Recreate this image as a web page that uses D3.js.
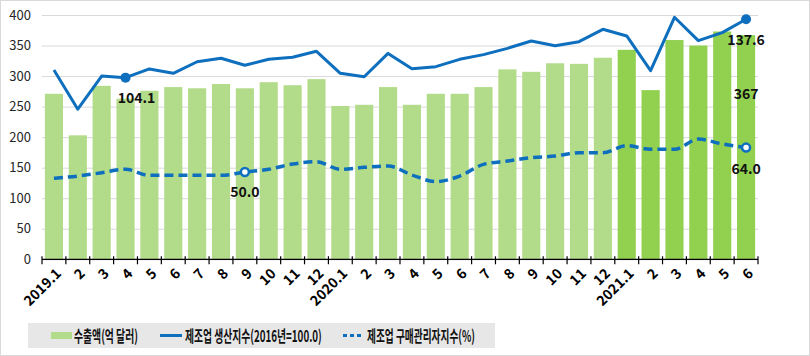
<!DOCTYPE html>
<html><head><meta charset="utf-8">
<script src="https://cdn.jsdelivr.net/npm/d3@7"></script>
<style>
html,body{margin:0;padding:0;background:#fff;}
svg{display:block;}
</style></head>
<body>
<svg id="c" width="810" height="356"></svg>
<script>
const categories = ["2019.1","2","3","4","5","6","7","8","9","10","11","12",
  "2020.1","2","3","4","5","6","7","8","9","10","11","12",
  "2021.1","2","3","4","5","6"];
const years = [2019,2019,2019,2019,2019,2019,2019,2019,2019,2019,2019,2019,
  2020,2020,2020,2020,2020,2020,2020,2020,2020,2020,2020,2020,
  2021,2021,2021,2021,2021,2021];
const exportsVal = [271,203,284,263,276,282,280,287,280,290,285,295,
  251,253,282,253,271,271,282,311,307,321,320,330,
  343,277,359,350,373,367];
const prodIndex = [108.5,86.0,105.0,104.1,109.1,106.6,113.2,115.2,111.2,114.6,115.8,119.2,
  106.6,104.6,118.0,109.2,110.4,114.6,117.3,120.9,125.1,122.4,124.7,131.8,
  128.0,108.1,138.7,125.3,129.9,137.6];
const pmi = [46.4,47.7,49.6,51.6,48.1,48.1,48.1,48.1,50.0,51.6,54.6,55.9,
  51.6,52.7,53.5,48.3,44.5,47.7,54.4,56.3,58.2,59.2,61.1,61.1,
  65.1,63.0,63.0,68.9,66.1,64.0];
const yTicks = [0,50,100,150,200,250,300,350,400];
const legendLabels = ["수출액(억 달러)","제조업 생산지수(2016년=100.0)","제조업 구매관리자지수(%)"];
const labelIdx = {prod:[3,29], pmi:[8,29], bar:[29]};

const svg = d3.select("#c");
const W = 810, H = 356;
svg.append("rect").attr("x",0.5).attr("y",0.5).attr("width",W-1).attr("height",H-1)
  .attr("fill","#fff").attr("stroke","#d9d9d9");

const x0 = 42, x1 = 758, yBase = 259.3, yTop = 15;
const x = d3.scaleBand().domain(d3.range(categories.length)).range([x0,x1]).paddingInner(0.24).paddingOuter(0.12);
const y = d3.scaleLinear().domain([0,400]).range([yBase,yTop]);
const y2 = d3.scaleLinear().domain([0,140]).range([yBase,yTop]);
const cx = i => x(i) + x.bandwidth()/2;

// gridlines
const grid = svg.append("g").attr("transform",`translate(${x0},0)`)
  .call(d3.axisLeft(y).tickValues(yTicks).tickSize(-(x1-x0)).tickFormat(""));
grid.select(".domain").remove();
grid.selectAll("line").attr("stroke","#d9d9d9").attr("stroke-width",1);

// y labels
svg.append("g").selectAll("text").data(yTicks).join("text")
  .attr("x",31).attr("y",d=>y(d)).attr("dy","0.36em").attr("text-anchor","end")
  .attr("font-family","'Noto Sans CJK KR','Noto Sans',sans-serif").attr("font-size",13)
  .attr("fill","#262626").text(d=>d);

// bars
svg.append("g").selectAll("rect").data(exportsVal).join("rect")
  .attr("x",(d,i)=>x(i)).attr("width",x.bandwidth())
  .attr("y",d=>y(d)).attr("height",d=>yBase-y(d))
  .attr("fill",(d,i)=>years[i]===2021?"#92d050":"#b3dc8a");

// x axis
const step = (x1-x0)/categories.length;
const ax = svg.append("g");
ax.append("line").attr("x1",x0).attr("x2",x1).attr("y1",yBase).attr("y2",yBase).attr("stroke","#000").attr("stroke-width",1.2);
ax.selectAll("line.t").data(d3.range(categories.length+1)).join("line").attr("class","t")
  .attr("x1",i=>x0+i*step).attr("x2",i=>x0+i*step).attr("y1",yBase-3).attr("y2",yBase+5)
  .attr("stroke","#000").attr("stroke-width",1.2);
ax.selectAll("text").data(categories).join("text")
  .attr("transform",(d,i)=>`translate(${cx(i)+1},${yBase+8}) rotate(-45)`)
  .attr("text-anchor","end").attr("dy","0.72em")
  .attr("font-family","'Noto Sans CJK KR','Noto Sans',sans-serif").attr("font-size",14).attr("font-weight","bold")
  .attr("fill","#000").text(d=>d);

// production line
const blue = "#0d6fbd";
svg.append("path").datum(prodIndex)
  .attr("d",d3.line().x((d,i)=>cx(i)).y(d=>y2(d)))
  .attr("fill","none").attr("stroke",blue).attr("stroke-width",3).attr("stroke-linejoin","round");
// pmi line
svg.append("path").datum(pmi)
  .attr("d",d3.line().x((d,i)=>cx(i)).y(d=>y2(d)).curve(d3.curveMonotoneX))
  .attr("fill","none").attr("stroke",blue).attr("stroke-width",3.5).attr("stroke-dasharray","9,5");

// markers
svg.append("g").selectAll("circle").data(labelIdx.prod).join("circle")
  .attr("cx",i=>cx(i)).attr("cy",i=>y2(prodIndex[i])).attr("r",5).attr("fill",blue);
svg.append("g").selectAll("circle").data(labelIdx.pmi).join("circle")
  .attr("cx",i=>cx(i)).attr("cy",i=>y2(pmi[i])).attr("r",4).attr("fill","#fff").attr("stroke",blue).attr("stroke-width",2.5);

// data labels
const lf = "'Noto Sans CJK KR','Noto Sans',sans-serif";
function lab(tx,xx,yy){
  svg.append("text").attr("x",xx).attr("y",yy).attr("text-anchor","middle")
   .attr("font-family",lf).attr("font-size",14).attr("font-weight","bold").attr("fill","#111").text(tx);
}
lab(prodIndex[3].toFixed(1), cx(3)+11, y2(prodIndex[3])+25);
lab(prodIndex[29].toFixed(1), cx(29), y2(prodIndex[29])+26);
lab(pmi[8].toFixed(1), cx(8), y2(pmi[8])+25);
lab(pmi[29].toFixed(1), cx(29), y2(pmi[29])+26);
lab(String(exportsVal[29]), cx(29), 99);

// legend
const lg = svg.append("g");
lg.append("rect").attr("x",28).attr("y",323).attr("width",467).attr("height",25).attr("fill","#e7e7e7");
lg.append("rect").attr("x",51).attr("y",332).attr("width",21).attr("height",7).attr("fill","#b3dc8a");
lg.append("line").attr("x1",160).attr("x2",182).attr("y1",335.5).attr("y2",335.5).attr("stroke",blue).attr("stroke-width",3);
lg.append("line").attr("x1",343).attr("x2",364).attr("y1",335.5).attr("y2",335.5).attr("stroke",blue).attr("stroke-width",3).attr("stroke-dasharray","4,3");
const lx = [74,185,367], lw = [64,137,108];
legendLabels.forEach((t,i)=>{
  const g = lg.append("g");
  const tx = g.append("text").attr("x",0).attr("y",0)
    .attr("font-family",lf).attr("font-size",16).attr("font-weight","bold").attr("fill","#111").text(t);
  const nat = tx.node().getComputedTextLength();
  g.attr("transform",`translate(${lx[i]},341.5) scale(${lw[i]/nat},1)`);
});
</script>
</body></html>
